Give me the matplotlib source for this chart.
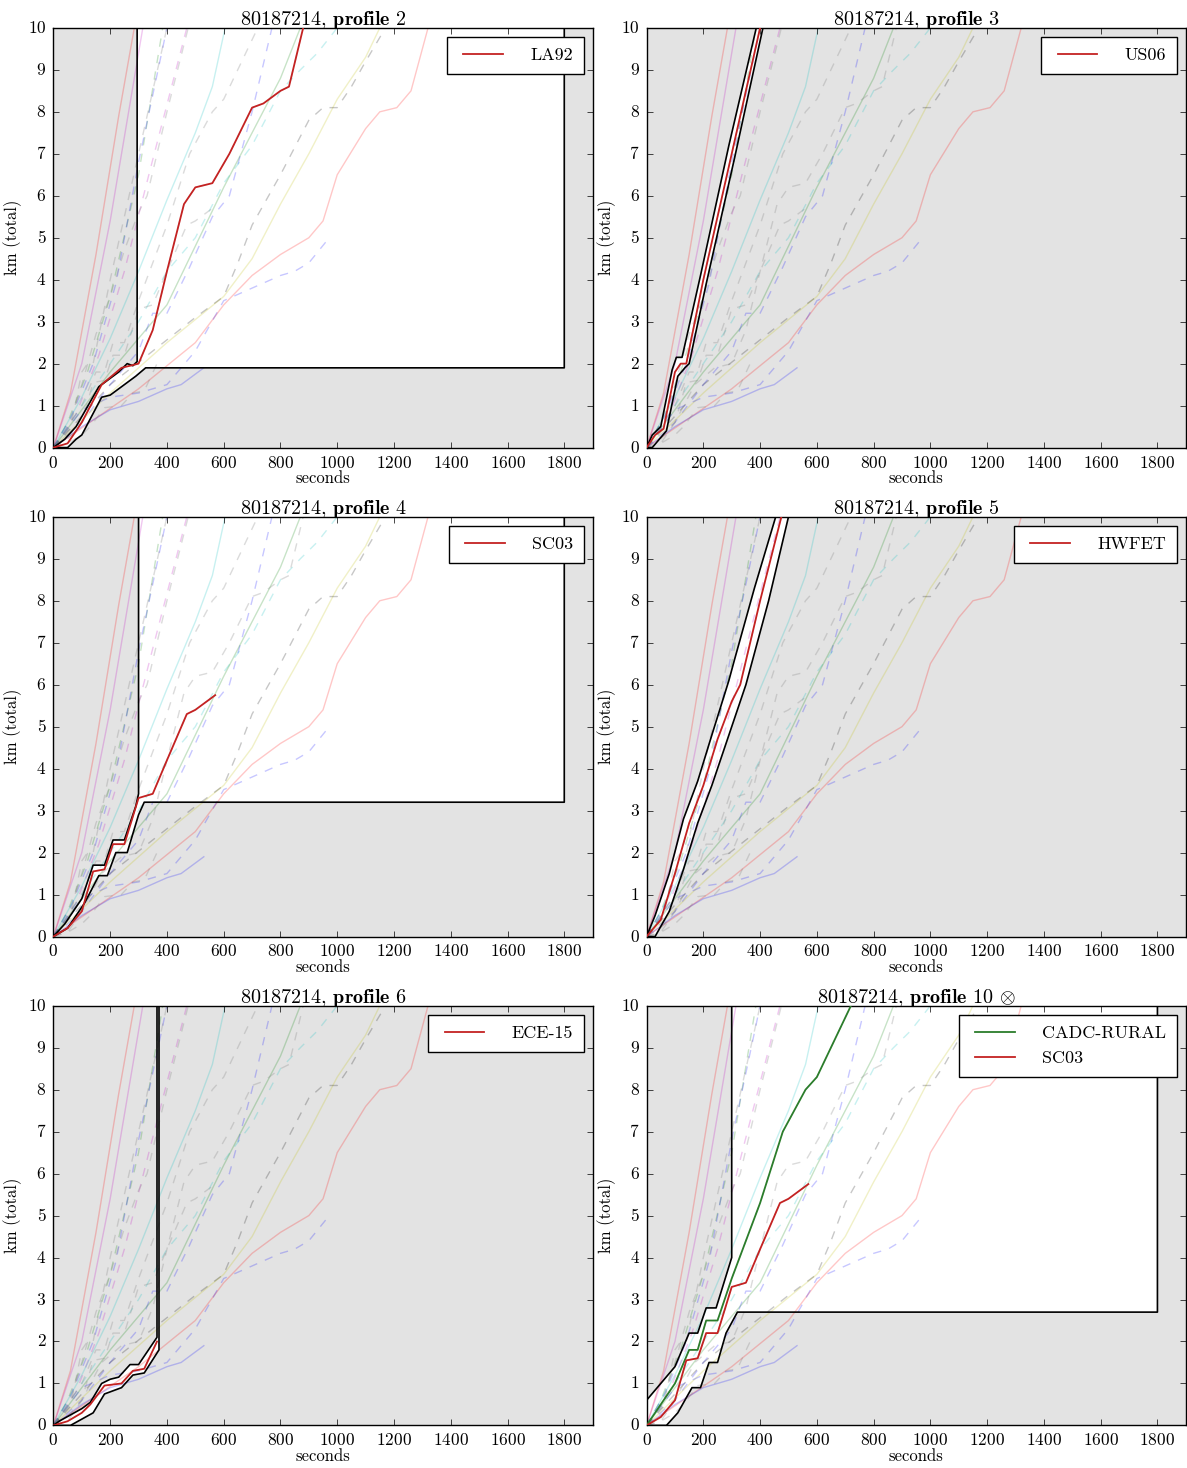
import matplotlib
matplotlib.use('Agg')
import matplotlib.pyplot as plt
from matplotlib.patches import Polygon

plt.style.use('classic')
plt.rcParams['font.family'] = ['cmr10', 'DejaVu Serif']
plt.rcParams['mathtext.fontset'] = 'cm'
plt.rcParams['axes.formatter.use_mathtext'] = True
plt.rcParams['font.size'] = 12

vehicle = '80187214'
xticks = [0, 200, 400, 600, 800, 1000, 1200, 1400, 1600, 1800]
yticks = [0, 1, 2, 3, 4, 5, 6, 7, 8, 9, 10]

# driving cycles, cumulative distance (seconds, km)
la92_t = [0, 50, 100, 170, 240, 300, 350, 400, 460, 500, 560, 620, 700, 740, 800, 830, 880]
la92_km = [0, 0.1, 0.6, 1.5, 1.9, 2.0, 2.8, 4.2, 5.8, 6.2, 6.3, 7.0, 8.1, 8.2, 8.5, 8.6, 10]
us06_t = [0, 30, 60, 100, 120, 140, 200, 300, 400]
us06_km = [0, 0.3, 0.45, 1.8, 2.0, 2.0, 4.0, 7.0, 10]
sc03_t = [0, 50, 100, 140, 180, 210, 250, 300, 350, 400, 470, 500, 570]
sc03_km = [0, 0.2, 0.6, 1.55, 1.6, 2.2, 2.2, 3.3, 3.4, 4.2, 5.3, 5.4, 5.75]
hwfet_t = [0, 50, 100, 150, 200, 250, 300, 330, 400, 475]
hwfet_km = [0, 0.4, 1.5, 2.7, 3.6, 4.7, 5.6, 6.0, 8.0, 10]
ece15_t = [0, 50, 100, 130, 180, 240, 280, 320, 365]
ece15_km = [0, 0.1, 0.3, 0.5, 0.95, 1.0, 1.3, 1.35, 2.0]
cadc_t = [0, 100, 150, 180, 210, 250, 300, 400, 480, 560, 600, 720]
cadc_km = [0, 1.0, 1.8, 1.8, 2.5, 2.5, 3.5, 5.3, 7.0, 8.0, 8.3, 10]

# other cycles drawn faintly in every panel
bg_t = [
    [0, 60, 150, 230, 285],
    [0, 100, 200, 260, 315],
    [0, 50, 120, 200, 300, 385],
    [0, 60, 140, 220, 300, 400],
    [0, 80, 160, 250, 340, 470],
    [0, 100, 200, 300, 400, 500, 560, 605],
    [0, 100, 200, 300, 350, 400, 480, 560, 620, 700, 770],
    [0, 150, 300, 400, 500, 600, 700, 800, 870, 930, 1000],
    [0, 200, 400, 500, 600, 700, 800, 870],
    [0, 200, 400, 600, 700, 800, 900, 1000, 1100, 1150],
    [0, 200, 350, 500, 600, 650, 700, 800, 900, 950, 1000, 1050, 1100, 1170],
    [0, 300, 500, 600, 700, 800, 900, 950, 1000, 1100, 1150, 1210, 1260, 1320],
    [0, 100, 200, 300, 400, 500, 600, 700, 800, 850, 900, 960],
    [0, 100, 200, 300, 400, 450, 530],
]
bg_km = [
    [0, 1.3, 4.6, 7.9, 10],
    [0, 2.0, 5.4, 7.8, 10],
    [0, 0.6, 1.8, 3.6, 6.5, 10],
    [0, 0.7, 2.0, 3.9, 6.8, 10],
    [0, 0.8, 2.2, 4.2, 6.6, 10],
    [0, 1.2, 2.6, 4.2, 5.9, 7.5, 8.6, 10],
    [0, 0.6, 1.5, 2.3, 3.2, 3.2, 4.3, 5.5, 6.0, 8.0, 10],
    [0, 1.5, 3.0, 4.2, 5.0, 6.3, 7.2, 8.5, 9.0, 9.4, 10],
    [0, 1.8, 3.4, 4.8, 6.2, 7.5, 8.8, 10],
    [0, 1.3, 2.5, 3.6, 4.5, 5.8, 7.0, 8.3, 9.3, 10],
    [0, 1.5, 2.3, 3.1, 3.6, 4.4, 5.3, 6.5, 7.8, 8.1, 8.1, 8.6, 9.2, 10],
    [0, 1.4, 2.5, 3.4, 4.1, 4.6, 5.0, 5.4, 6.5, 7.6, 8.0, 8.1, 8.5, 10],
    [0, 0.9, 1.2, 1.3, 1.5, 2.3, 3.5, 3.8, 4.1, 4.2, 4.4, 4.9],
    [0, 0.5, 0.9, 1.1, 1.4, 1.5, 1.9],
]
bg_colors = ['r', 'm', 'g', 'b', 'm', 'c', 'b', 'c', 'g', 'y', 'k', 'r', 'b', 'b']
bg_styles = ['-', '-', '--', '--', '--', '-', '--', '--', '-', '-', '--', '-', '--', '-']

# profiles: highlighted cycles and tolerance envelope (upper / lower bound)
profiles = ['2', '3', '4', '5', '6', '10']
marks = ['', '', '', '', '', r' $\otimes$']
hl_names = [['LA92'], ['US06'], ['SC03'], ['HWFET'], ['ECE-15'], ['CADC-RURAL', 'SC03']]
hl_t = [[la92_t], [us06_t], [sc03_t], [hwfet_t], [ece15_t], [cadc_t, sc03_t]]
hl_km = [[la92_km], [us06_km], [sc03_km], [hwfet_km], [ece15_km], [cadc_km, sc03_km]]
hl_colors = [['#c42222'], ['#c42222'], ['#c42222'], ['#c42222'], ['#c42222'], ['#2b7d2b', '#c42222']]

up_t = [
    [0, 20, 40, 80, 160, 230, 260, 280, 295, 295],
    [0, 20, 50, 90, 105, 125, 190, 290, 390],
    [0, 40, 100, 140, 180, 210, 250, 290, 300, 300],
    [0, 30, 80, 130, 180, 230, 290, 310, 380, 455],
    [0, 20, 60, 100, 130, 170, 200, 230, 270, 300, 365, 365],
    [0, 100, 150, 180, 210, 245, 300, 300],
]
up_km = [
    [0, 0.1, 0.2, 0.5, 1.45, 1.8, 2.0, 1.95, 2.05, 11],
    [0, 0.3, 0.5, 1.85, 2.15, 2.15, 4.1, 7.2, 10.1],
    [0, 0.3, 0.9, 1.7, 1.7, 2.3, 2.3, 3.1, 3.4, 11],
    [0, 0.5, 1.5, 2.8, 3.7, 4.8, 6.1, 6.6, 8.3, 10],
    [0, 0.1, 0.25, 0.4, 0.55, 1.0, 1.1, 1.15, 1.45, 1.45, 2.1, 11],
    [0.6, 1.4, 2.2, 2.2, 2.8, 2.8, 4.0, 11],
]
lo_t = [
    [0, 50, 80, 100, 170, 200, 230, 290, 325, 1800, 1800],
    [0, 20, 45, 70, 110, 135, 150, 210, 310, 410],
    [0, 50, 110, 160, 190, 220, 260, 300, 320, 1800, 1800],
    [0, 30, 80, 130, 180, 230, 280, 330, 350, 430, 500],
    [0, 60, 100, 140, 180, 200, 240, 280, 320, 372, 372],
    [0, 70, 110, 160, 190, 220, 250, 280, 320, 1800, 1800],
]
lo_km = [
    [0, 0, 0.2, 0.3, 1.2, 1.25, 1.4, 1.7, 1.9, 1.9, 11],
    [0, 0, 0.2, 0.4, 1.7, 1.9, 2.0, 3.9, 6.9, 10],
    [0, 0.2, 0.8, 1.45, 1.45, 2.0, 2.0, 2.9, 3.2, 3.2, 11],
    [0, 0, 0.6, 1.6, 2.7, 3.6, 4.6, 5.6, 6.0, 8.0, 10],
    [0, 0, 0.15, 0.3, 0.75, 0.8, 0.9, 1.2, 1.25, 1.8, 11],
    [0, 0, 0.3, 0.9, 0.9, 1.5, 1.5, 2.2, 2.7, 2.7, 11],
]

fig, axes = plt.subplots(3, 2, figsize=(11.87, 14.68), dpi=100)
fig.patch.set_facecolor('white')
plt.subplots_adjust(left=0.045, right=0.999, top=0.981, bottom=0.029,
                    wspace=0.1, hspace=0.165)

for i, ax in enumerate(axes.flat):
    ax.set_facecolor('#e3e3e3')
    pts = list(zip(up_t[i], up_km[i])) + list(zip(lo_t[i], lo_km[i]))[::-1]
    ax.add_patch(Polygon(pts, closed=True, facecolor='white', edgecolor='none', zorder=1))

    for t, d, c, s in zip(bg_t, bg_km, bg_colors, bg_styles):
        ax.plot(t, d, color=c, ls=s, lw=1, alpha=0.22, zorder=2)
    for t, d in zip([la92_t, us06_t, sc03_t, hwfet_t, ece15_t, cadc_t],
                    [la92_km, us06_km, sc03_km, hwfet_km, ece15_km, cadc_km]):
        ax.plot(t, d, color='#888888', ls='--', lw=1, alpha=0.3, zorder=2)

    ax.plot(up_t[i], up_km[i], color='k', lw=1.2, zorder=3)
    ax.plot(lo_t[i], lo_km[i], color='k', lw=1.2, zorder=3)

    for name, t, d, c in zip(hl_names[i], hl_t[i], hl_km[i], hl_colors[i]):
        ax.plot(t, d, color=c, lw=1.3, label=name, zorder=4)

    ax.set_xlim(0, 1900)
    ax.set_ylim(0, 10)
    ax.set_xticks(xticks)
    ax.set_yticks(yticks)
    ax.set_xlabel('seconds', fontsize=12, labelpad=0)
    ax.set_ylabel('km (total)', fontsize=12, labelpad=4)
    ax.set_title(vehicle + r', $\mathbf{profile\ ' + profiles[i] + '}$' + marks[i],
                 fontsize=14.5, pad=2)
    ax.tick_params(labelsize=12.5, pad=5)
    ax.legend(loc='upper right', fontsize=13, handlelength=2.8, borderpad=0.6,
              handletextpad=1.2)

fig.savefig('out.png', dpi=100, facecolor='white')
